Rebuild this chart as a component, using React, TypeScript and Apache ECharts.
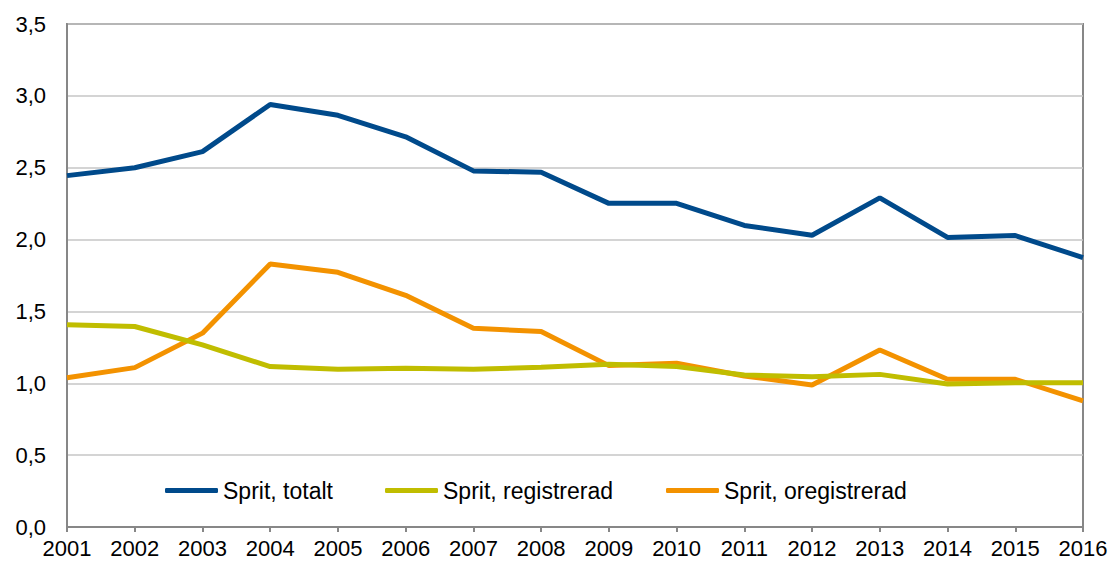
import React, { useEffect, useRef } from "react";
import * as echarts from "echarts";

const years = ["2001","2002","2003","2004","2005","2006","2007","2008","2009","2010","2011","2012","2013","2014","2015","2016"];
const totalt = [2.445, 2.5, 2.612, 2.94, 2.865, 2.715, 2.478, 2.468, 2.252, 2.252, 2.098, 2.03, 2.29, 2.015, 2.028, 1.875];
const registrerad = [1.407, 1.395, 1.267, 1.116, 1.097, 1.104, 1.097, 1.111, 1.132, 1.116, 1.058, 1.046, 1.062, 0.995, 1.004, 1.004];
const oregistrerad = [1.039, 1.109, 1.349, 1.83, 1.772, 1.612, 1.383, 1.36, 1.123, 1.139, 1.051, 0.988, 1.232, 1.028, 1.028, 0.877];
const seriesNames = ["Sprit, totalt", "Sprit, registrerad", "Sprit, oregistrerad"];
const colors = ["#004a8b", "#c0bd00", "#f39200"];

export default function App() {
  const ref = useRef<HTMLDivElement>(null);
  useEffect(() => {
    document.body.style.margin = "0";
    const chart = echarts.init(ref.current!, null, { renderer: "svg" });
    const font = "'Liberation Sans', Arial, sans-serif";
    const dataSets = [totalt, registrerad, oregistrerad];
    const legendLefts = [165, 385, 666];
    chart.setOption({
      animation: false,
      backgroundColor: "#ffffff",
      textStyle: { fontFamily: font },
      grid: {
        left: 67, right: 28, top: 24, bottom: 38,
        show: true, borderColor: "#878787", borderWidth: 2,
      },
      legend: seriesNames.map((n, i) => ({
        data: [n],
        left: legendLefts[i],
        top: 479,
        padding: 0,
        icon: "roundRect",
        itemWidth: 53,
        itemHeight: 5,
        itemGap: 6,
        textStyle: { fontSize: 23, color: "#000", fontFamily: font },
      })),
      xAxis: {
        type: "category",
        data: years,
        boundaryGap: false,
        axisLine: { lineStyle: { color: "#878787", width: 2 } },
        axisTick: { show: true, alignWithLabel: true, length: 5, lineStyle: { color: "#878787", width: 2 } },
        axisLabel: { color: "#000", fontSize: 22, fontFamily: font, margin: 10, interval: 0 },
        splitLine: { show: false },
      },
      yAxis: {
        type: "value",
        min: 0, max: 3.5, interval: 0.5,
        axisLine: { show: true, lineStyle: { color: "#878787", width: 2 } },
        axisTick: { show: false },
        axisLabel: {
          color: "#000", fontSize: 22, fontFamily: font, margin: 21,
          formatter: (v: number) => v.toFixed(1).replace(".", ","),
        },
        splitLine: { lineStyle: { color: "#c6c6c6", width: 1.5 } },
      },
      series: seriesNames.map((n, i) => ({
        name: n,
        type: "line",
        data: dataSets[i],
        symbol: "none",
        color: colors[i],
        lineStyle: { color: colors[i], width: 5 },
        itemStyle: { color: colors[i] },
        z: 10 - i,
      })),
    });
    return () => chart.dispose();
  }, []);
  return <div ref={ref} style={{ width: 1111, height: 565 }} />;
}
